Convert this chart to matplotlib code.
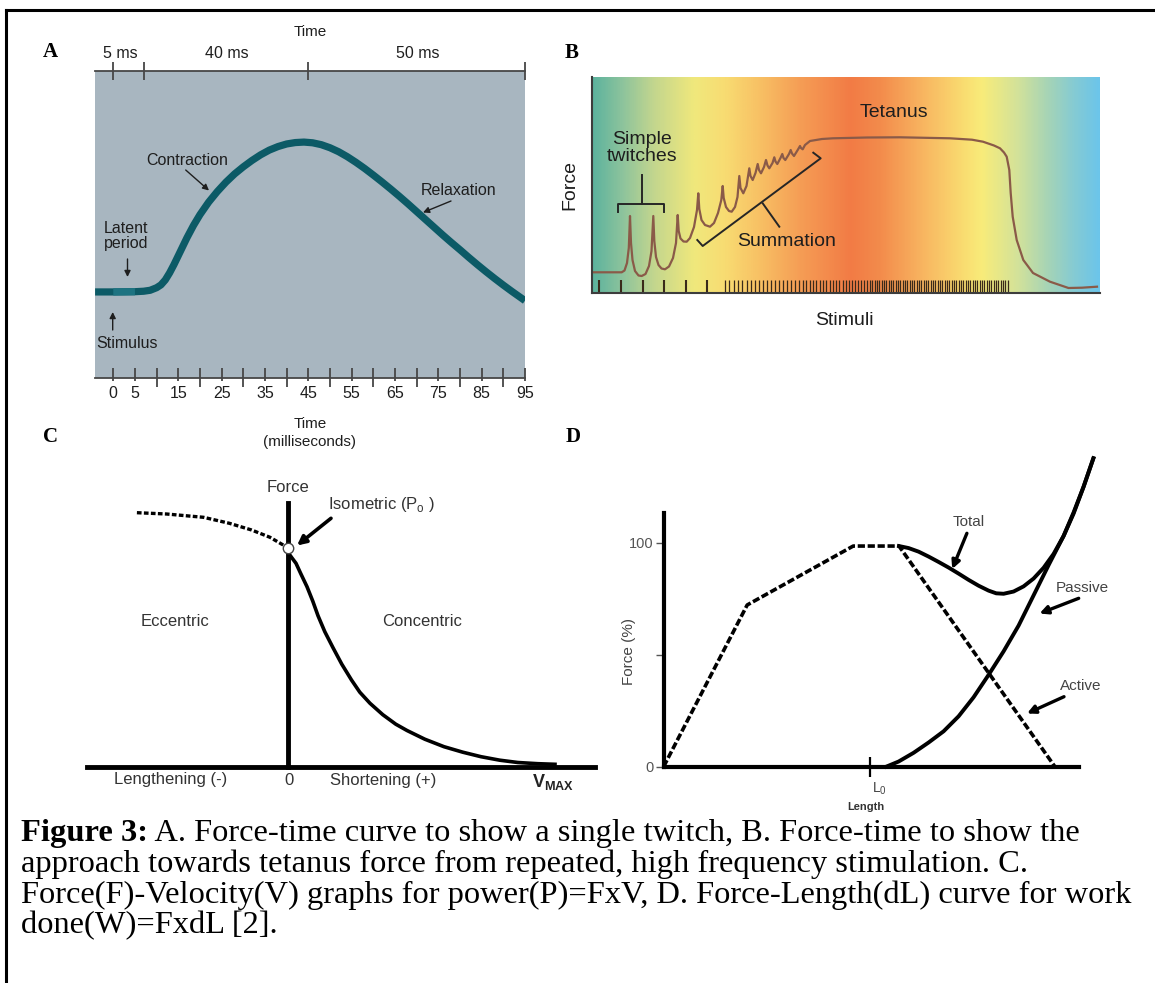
import matplotlib
matplotlib.use("Agg")
import matplotlib.pyplot as plt
from matplotlib.colors import LinearSegmentedColormap
import numpy as np

plt.rcParams['font.family'] = ['Liberation Sans', 'DejaVu Sans']

# ---------------- data ----------------
# Panel A : single twitch (time in ms, force in arbitrary units, peak = 100)
a_time = [-4.2, 0, 5, 7, 8.5, 10, 11, 12, 13, 14, 15, 16, 17, 18.5, 20, 22, 24, 26, 28, 30, 32, 34,
          36, 38, 40, 42, 44, 46, 48, 50, 52, 54, 56, 58, 60, 62, 64, 66, 68, 70, 72, 74, 76, 78,
          80, 82, 84, 86, 88, 90, 92, 95]
a_force = [36.4, 36.4, 36.5, 36.7, 37.1, 38.2, 39.4, 41.5, 44.5, 48, 51.8, 55.6, 59.4, 64.6, 69.2, 74.5,
           79, 83, 86.5, 89.5, 92.2, 94.6, 96.6, 98.1, 99.2, 99.8, 100, 99.7, 98.9, 97.6, 95.9, 93.8,
           91.4, 88.8, 86.0, 83.1, 80.1, 77.0, 73.8, 70.5, 67.2, 63.9, 60.6, 57.4, 54.3, 51.1, 48.0,
           45.0, 42.1, 39.3, 36.6, 32.7]
a_latent_time = [0, 5]
a_latent_force = [36.4, 36.5]
a_ticks = [0, 5, 10, 15, 20, 25, 30, 35, 40, 45, 50, 55, 60, 65, 70, 75, 80, 85, 90, 95]
a_tick_labels = ['0', '5', '', '15', '', '25', '', '35', '', '45', '', '55', '', '65', '', '75', '', '85', '', '95']
a_top_ticks = [0, 7, 45, 95]

# Panel B : summation to tetanus (stimulus time units, force units)
b_x = [0, 29.7, 32.5, 35, 36.8, 38, 39, 40.5, 43, 46.5, 49.7, 53.5, 57, 59.5, 61.3,
       62.3, 64, 66.5, 69.5, 73, 77, 81, 84, 85.7, 86.7, 88.5, 91.5, 94.7,
       98, 102, 105, 106.3, 107.3, 109.5, 113, 118, 122, 126, 129.3, 130.7,
       131.7, 134, 137, 139.7, 143, 145.5, 147.3, 148.5, 151.3, 154.5, 157.3,
       158.5, 160.7, 163.5, 165.7, 167, 169, 172, 174, 175.5, 177.3, 180.5, 182.3,
       183.5, 185.3, 188.5, 190.3, 191.5, 193.3, 197, 198.7, 200, 202, 206, 208,
       209, 210.7, 213, 218, 230, 241, 275, 308, 358, 380, 391, 402, 408, 412,
       414.7, 417.3, 418.7, 420.7, 424.7, 431.3, 441, 458, 476.5, 490, 505]
b_y = [20.7, 20.7, 22.5, 30, 45, 77, 50, 33, 22, 17.5, 17, 19, 27, 42, 77,
       52, 36, 28, 24.5, 23.7, 26.5, 35, 50, 78, 62, 54.5, 51.5, 51.3,
       55, 66, 83, 99.7, 84, 73, 68, 66.3, 70, 80, 93, 107,
       95, 86, 82, 81.3, 86, 96, 117, 105, 99.7, 107, 124.7,
       117, 113, 120, 129, 123, 119.7, 126, 133, 127.5, 124.7, 130, 135.7,
       131.5, 129, 135, 139, 135, 133, 139, 143, 139.5, 137, 143.5, 147,
       145, 143.7, 148, 152, 154, 154.7, 155.5, 155.7, 154.7, 153.3, 151.3, 147.5, 144.7, 140.5,
       136.3, 123, 100, 76.3, 53, 33, 20, 11.3, 5, 5.3, 6.3]
b_stim_sparse = [7.3, 29, 50.7, 72.3, 94, 114.7]
b_stim_dense = [133, 137, 141.5, 146, 150, 154.5, 158.5, 163, 167, 171, 175, 179, 183, 187, 191,
                195, 199, 203, 207, 210.5, 214, 217.5, 221, 224, 227.5, 231, 234, 237.5, 241,
                244, 247, 250.5, 253.5, 256.5, 259.5, 262.5, 265.5, 268.5, 271.5, 274.5, 277.5,
                280, 282.5, 285, 287, 289.5, 292, 294, 296.5, 299, 301, 303.5, 306, 308, 310.5,
                313, 315, 317.5, 320, 322, 324.5, 327, 329, 331.5, 334, 336, 338.5, 341, 343,
                345.5, 348, 350, 352.5, 355, 357, 359.5, 362, 364, 366.5, 369, 371, 373.5, 376,
                378, 380.5, 383, 385, 387.5, 390, 392, 394.5, 397, 399, 401.5, 404, 406, 408.5,
                411, 413, 415.5]
b_grad_pos = [0, 0.06, 0.12, 0.2, 0.26, 0.33, 0.41, 0.51, 0.57, 0.65, 0.73, 0.77, 0.84, 0.9, 0.95, 1.0]
b_grad_colors = ['#5db39e', '#8fc49c', '#c3d68e', '#f0e87c', '#f8dc72', '#f8c064', '#f59d55', '#f27b45',
                 '#f38c4c', '#f8b460', '#fadb70', '#f8ec7a', '#d3e29a', '#a6d4b6', '#86cbd2', '#6cc5ea']
b_twitch_bracket_x = [26.3, 26.3, 72, 72]
b_twitch_bracket_y = [81.3, 89, 89, 81.3]
b_twitch_stem_x = [49.7, 49.7]
b_twitch_stem_y = [89, 118]
b_sum_bracket_x = [105.3, 110.7, 228.7, 221.3]
b_sum_bracket_y = [53, 47, 134.7, 140.3]
b_sum_stem_x = [170.7, 187.3]
b_sum_stem_y = [89.7, 66.3]

# Panel C : force-velocity (velocity units, force units)
c_ecc_v = [-150.9, -121.3, -84.3, -58.4, -36.2, -17.8, -2.9]
c_ecc_f = [254, 252.7, 249.4, 243.4, 236.7, 229.4, 220.7]
c_iso_v = [0]
c_iso_f = [218.4]
c_con_v = [0.8, 4, 8.2, 13, 19.2, 25, 30.2, 37, 45.2, 54, 63.7, 72, 82.2, 95, 108, 119.2, 137,
           156.2, 175, 193.2, 212, 230, 250, 267.2]
c_con_f = [213.4, 209, 203.4, 193, 180, 165.5, 151, 135, 119, 102.5, 86.7, 74.5, 63.4, 52, 42.5,
           36.2, 27.5, 20, 14.5, 10, 6.5, 4.2, 3, 2.4]

# Panel D : force-length (length units, force %)
d_active_L = [0, 83.6, 189.6, 235.4, 391.3]
d_active_F = [0, 72.2, 98.5, 98.5, 0]
d_passive_L = [222.6, 235, 250, 265, 280, 295, 310, 325, 340, 355, 370, 385, 400, 410, 420, 429.8]
d_passive_F = [0, 2.3, 6.2, 10.8, 15.8, 22.5, 31, 41, 51.5, 63, 76.5, 90, 103, 113.5, 125, 137.7]
d_total_L = [235.4, 245, 255, 265, 275, 285, 295, 305, 315, 325, 332.6, 340, 350, 360, 370, 380,
             390, 400, 410, 420, 429.8]
d_total_F = [98.5, 97.6, 96, 93.8, 91.4, 88.9, 86.2, 83.4, 80.8, 78.6, 77.4, 77.2, 78.2, 80.5, 84,
             88.8, 95, 103, 113, 125, 137.7]
d_yticks = [0, 50, 100]
d_yticklabels = ['0', '', '100']
d_L0 = 206.8

caption_lines = [
    " A. Force-time curve to show a single twitch, B. Force-time to show the",
    "approach towards tetanus force from repeated, high frequency stimulation. C.",
    "Force(F)-Velocity(V) graphs for power(P)=FxV, D. Force-Length(dL) curve for work",
    "done(W)=FxdL [2].",
]

# ---------------- figure ----------------
W, H = 1155, 983
fig = plt.figure(figsize=(W / 100, H / 100), dpi=100)


def px_axes(x0, y0, x1, y1):
    return fig.add_axes([x0 / W, 1 - y1 / H, (x1 - x0) / W, (y1 - y0) / H])


# ----- Panel A -----
axA = px_axes(95, 70.7, 525, 377.7)
axA.set_xlim(-4.22, 95)
axA.set_ylim(0, 130.3)
axA.set_facecolor('#a8b6c0')
for s in ['left', 'right']:
    axA.spines[s].set_visible(False)
for s in ['top', 'bottom']:
    axA.spines[s].set_color('#474747')
    axA.spines[s].set_linewidth(1.3)
axA.set_xticks([])
axA.set_yticks([])
axA.plot(a_time, a_force, color='#0c5a66', lw=5.2, solid_capstyle='butt', solid_joinstyle='round')
axA.plot(a_latent_time, a_latent_force, color='#1d7381', lw=5.2, solid_capstyle='butt')
for t, lab in zip(a_ticks, a_tick_labels):
    lo = -1.3 if lab else -3.8
    axA.vlines(t, lo, 4.2, color='#474747', lw=1.3, clip_on=False)
    if lab:
        axA.text(t, -6.5, lab, ha='center', va='center', fontsize=11.5, color='#1e1e1e')
axA.vlines(a_top_ticks, 126.3, 134.1, color='#474747', lw=1.3, clip_on=False)

# ----- Panel B -----
axB = px_axes(592, 77, 1100, 293)
axB.set_xlim(0, 508)
axB.set_ylim(0, 216)
cmap = LinearSegmentedColormap.from_list('bgrad', list(zip(b_grad_pos, b_grad_colors)))
grad = np.linspace(0, 1, 600).reshape(1, -1)
axB.imshow(grad, cmap=cmap, extent=[0, 508, 0, 216], aspect='auto', interpolation='bilinear', zorder=0)
for s in ['top', 'right']:
    axB.spines[s].set_visible(False)
for s in ['left', 'bottom']:
    axB.spines[s].set_color('#3d3d3d')
    axB.spines[s].set_linewidth(1.5)
axB.set_xticks([])
axB.set_yticks([])
axB.vlines(b_stim_sparse, 0, 13, color='#3a2a1a', lw=1.5)
axB.vlines(b_stim_dense, 0, 13, color='#3a2a1a', lw=0.9)
axB.plot(b_x, b_y, color='#8a5a48', lw=1.6, solid_joinstyle='round')
bk = '#262626'
axB.plot(b_twitch_bracket_x, b_twitch_bracket_y, color=bk, lw=1.4)
axB.plot(b_twitch_stem_x, b_twitch_stem_y, color=bk, lw=1.4)
axB.plot(b_sum_bracket_x, b_sum_bracket_y, color=bk, lw=1.4)
axB.plot(b_sum_stem_x, b_sum_stem_y, color=bk, lw=1.4)

# ----- Panel C -----
axC = px_axes(60, 470, 600, 795)
axC.set_xlim(-227.8, 312.2)
axC.set_ylim(-28.3, 296.7)
axC.patch.set_visible(False)
for s in ['top', 'right']:
    axC.spines[s].set_visible(False)
axC.spines['left'].set_position(('data', 0))
axC.spines['left'].set_bounds(0, 264)
axC.spines['bottom'].set_position(('data', 0))
axC.spines['bottom'].set_bounds(-200.8, 307.2)
for s in ['left', 'bottom']:
    axC.spines[s].set_linewidth(3.5)
    axC.spines[s].set_color('black')
axC.set_xticks([])
axC.set_yticks([])
axC.plot(c_ecc_v, c_ecc_f, color='black', lw=2.4, linestyle=(0, (1.4, 0.7)))
axC.plot(c_con_v, c_con_f, color='black', lw=2.6, solid_joinstyle='round')
axC.plot(c_iso_v, c_iso_f, 'o', ms=7.5, mfc='white', mec='#444444', mew=1.0, zorder=5)

# ----- Panel D -----
axD = px_axes(620, 450, 1110, 800)
axD.set_xlim(-43.6, 446.4)
axD.set_ylim(-14.87, 141.38)
axD.patch.set_visible(False)
for s in ['top', 'right']:
    axD.spines[s].set_visible(False)
axD.spines['left'].set_position(('data', 0))
axD.spines['left'].set_bounds(0, 113.1)
axD.spines['bottom'].set_position(('data', 0))
axD.spines['bottom'].set_bounds(0, 415.1)
for s in ['left', 'bottom']:
    axD.spines[s].set_linewidth(3.0)
    axD.spines[s].set_color('black')
    axD.spines[s].set_capstyle('projecting')
axD.set_yticks(d_yticks)
axD.set_yticklabels(d_yticklabels)
axD.tick_params(axis='y', direction='out', length=6, width=1.0, color='#555555',
                labelcolor='#555555', labelsize=10.5, pad=1.5)
axD.set_xticks([d_L0])
axD.set_xticklabels([''])
axD.tick_params(axis='x', direction='inout', length=14, width=1.6, color='black')
axD.plot(d_active_L, d_active_F, color='black', lw=2.6, linestyle=(0, (2.0, 0.75)))
axD.plot(d_passive_L, d_passive_F, color='black', lw=2.8, solid_joinstyle='round')
axD.plot(d_total_L, d_total_F, color='black', lw=2.8, solid_joinstyle='round')

# ----- overlay for text / annotations -----
bg = fig.add_axes([0, 0, 1, 1])
bg.set_xlim(0, W)
bg.set_ylim(H, 0)
bg.axis('off')
bg.set_zorder(10)
bg.patch.set_alpha(0)

# border
bg.plot([6, W], [10, 10], color='black', lw=2.2, solid_capstyle='projecting')
bg.plot([6, 6], [10, H], color='black', lw=2.2, solid_capstyle='projecting')


def T(x, y, s, size, color='#1e1e1e', **kw):
    kw.setdefault('ha', 'center')
    kw.setdefault('va', 'center')
    return bg.text(x, y, s, fontsize=size, color=color, **kw)


def arrow(x0, y0, x1, y1, lw=1.0, ms=9, color='#1e1e1e'):
    bg.annotate('', xy=(x1, y1), xytext=(x0, y0),
                arrowprops=dict(arrowstyle='-|>', lw=lw, color=color, mutation_scale=ms,
                                shrinkA=0, shrinkB=0))


serif = ['Liberation Serif', 'DejaVu Serif']
# panel letters
for lab, x, y in [('A', 50, 51.7), ('B', 572, 53.3), ('C', 50, 437), ('D', 573, 437)]:
    T(x, y, lab, 15, color='black', family=serif, fontweight='bold')

# Panel A texts
T(310, 31.7, 'Time', 11)
T(120, 53.3, '5 ms', 11.5)
T(227, 53.3, '40 ms', 11.5)
T(418, 53.3, '50 ms', 11.5)
T(187.5, 160.7, 'Contraction', 11.5)
arrow(185.7, 170, 209, 190.5)
T(459, 190.7, 'Relaxation', 11.5)
arrow(451, 201, 423, 212.5)
T(125.7, 236, 'Latent\nperiod', 11.5, linespacing=1.05)
arrow(127.5, 259, 127.5, 277)
T(126.7, 343, 'Stimulus', 11.5)
arrow(112.7, 330, 112.7, 312)
T(310, 424, 'Time', 11)
T(310, 441.7, '(milliseconds)', 11)

# Panel B texts
T(641.7, 148, 'Simple\ntwitches', 14, linespacing=1.0)
T(787, 241.7, 'Summation', 14)
T(894, 112.3, 'Tetanus', 14)
T(569.5, 185, 'Force', 14, rotation=90)
T(844.6, 320.7, 'Stimuli', 14)

# Panel C texts
cc = '#333333'
T(287.8, 487.3, 'Force', 12, color=cc)
T(381, 505, r'Isometric (P$_\mathregular{o}$ )', 12, color=cc)
arrow(331, 518.3, 297, 545.5, lw=2.6, ms=13, color='black')
T(174.6, 621.7, 'Eccentric', 12, color=cc)
T(421.7, 621.7, 'Concentric', 12, color=cc)
T(171, 779.3, 'Lengthening (-)', 12, color=cc)
T(289.3, 780.7, '0', 12, color=cc)
T(383, 780, 'Shortening (+)', 12, color=cc)
T(553, 781.7, r'V$_\mathregular{MAX}$', 13, color='#222222', fontweight='bold')

# Panel D texts
dc = '#444444'
T(968.7, 521.7, 'Total', 11, color=dc)
arrow(966.9, 533.3, 952.2, 569, lw=2.4, ms=12, color='black')
T(1082.4, 588.3, 'Passive', 11, color=dc)
arrow(1078.7, 598.3, 1039.5, 613.5, lw=2.4, ms=12, color='black')
T(1080.5, 686, 'Active', 11, color=dc)
arrow(1064, 696.7, 1027, 713.5, lw=2.4, ms=12, color='black')
T(629.5, 651.7, 'Force (%)', 11, color=dc, rotation=90)
T(879, 789, r'L$_\mathregular{0}$', 10, color=dc)
T(866, 806.5, 'Length', 8, color='#333333', fontweight='bold')

# caption
cap_y = [833, 864, 895, 926]
fs_cap = 23.4
b = bg.text(21, cap_y[0], 'Figure 3:', fontsize=fs_cap, family=serif, fontweight='bold',
            ha='left', va='center', color='black')
fig.canvas.draw()
bb = b.get_window_extent(renderer=fig.canvas.get_renderer())
x_after = bb.x1 * 100 / fig.dpi
bg.text(x_after, cap_y[0], caption_lines[0], fontsize=fs_cap, family=serif, ha='left', va='center', color='black')
for y, line in zip(cap_y[1:], caption_lines[1:]):
    bg.text(21, y, line, fontsize=fs_cap, family=serif, ha='left', va='center', color='black')

fig.savefig('out.png', dpi=100)
